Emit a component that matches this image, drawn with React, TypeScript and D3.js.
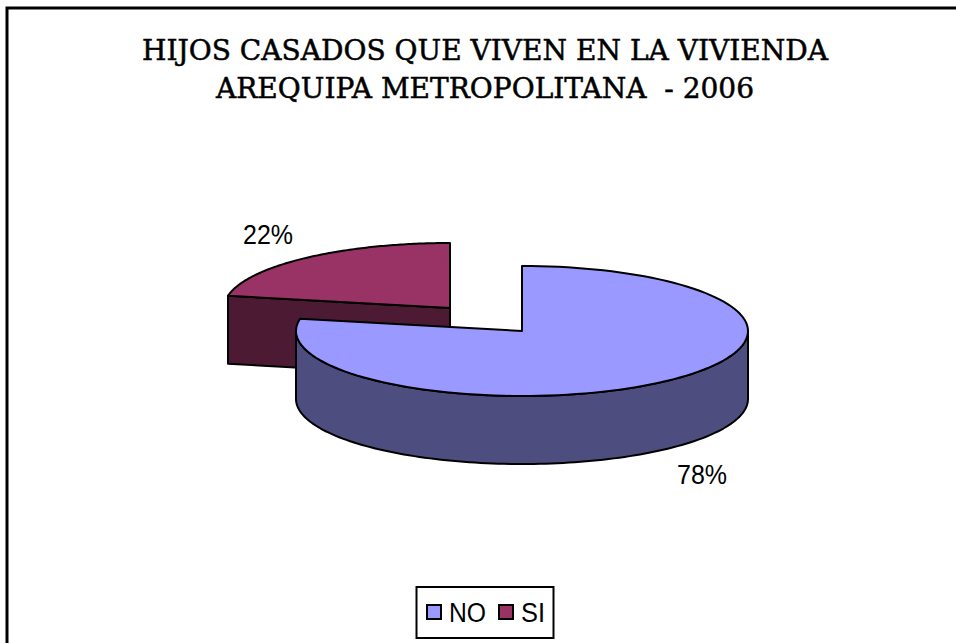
import React from "react";
import * as d3 from "d3";

const categories = ["NO", "SI"];
const values = [78, 22];
const labels = ["78%", "22%"];
const titleLines = ["HIJOS CASADOS QUE VIVEN EN LA VIVIENDA", "AREQUIPA METROPOLITANA  - 2006"];
const topColors = ["#9999ff", "#993366"];
const wallColors = ["#4d4d80", "#4d1a33"];

const RX = 226, RY = 65, DEPTH = 68;
const centers = [{ x: 522, y: 331 }, { x: 450, y: 308 }];

const line = d3.line<[number, number]>().x(d => d[0]).y(d => d[1]);
const pt = (c: { x: number; y: number }, a: number): [number, number] => [
  c.x + RX * Math.sin(a),
  c.y - RY * Math.cos(a),
];
const arc = (c: { x: number; y: number }, a0: number, a1: number) =>
  d3.range(0, 121).map(i => pt(c, a0 + ((a1 - a0) * i) / 120));

export default function App() {
  const arcs = d3.pie<number>().sort(null)(values);
  const no = arcs[0], si = arcs[1];
  const cNo = centers[0], cSi = centers[1];

  const noTop = line([[cNo.x, cNo.y], ...arc(cNo, no.startAngle, no.endAngle)])! + "Z";
  const siTop = line([[cSi.x, cSi.y], ...arc(cSi, si.startAngle, si.endAngle)])! + "Z";

  const front = arc(cNo, Math.PI / 2, (3 * Math.PI) / 2);
  const frontLow = front.map(p => [p[0], p[1] + DEPTH] as [number, number]).reverse();
  const noWall = line([...front, ...frontLow])! + "Z";

  const s0 = pt(cSi, si.startAngle);
  const siFace = line([
    [cSi.x, cSi.y],
    [s0[0], s0[1]],
    [s0[0], s0[1] + DEPTH],
    [cSi.x, cSi.y + DEPTH],
  ])! + "Z";

  return (
    <svg width={956} height={643} style={{ position: "fixed", left: 0, top: 0, background: "#fff" }}>
      <path d="M7,645 V8 H958" fill="none" stroke="#000" strokeWidth={3} />
      <g fontFamily="'DejaVu Serif', serif" fontSize={28} fill="#000" stroke="#000" strokeWidth={0.5} textAnchor="middle">
        <text x={485} y={60} textLength={686} lengthAdjust="spacingAndGlyphs">{titleLines[0]}</text>
        <text x={485} y={98} textLength={538} lengthAdjust="spacingAndGlyphs" xmlSpace="preserve">{titleLines[1]}</text>
      </g>
      <g stroke="#000" strokeWidth={2} strokeLinejoin="round">
        <path d={siFace} fill={wallColors[1]} />
        <path d={siTop} fill={topColors[1]} />
        <path d={noWall} fill={wallColors[0]} />
        <path d={noTop} fill={topColors[0]} />
      </g>
      <g fontFamily="'Liberation Sans', Arial, sans-serif" fontSize={28} fill="#000" textAnchor="middle">
        <text x={702} y={484} textLength={50} lengthAdjust="spacingAndGlyphs">{labels[0]}</text>
        <text x={268} y={244} textLength={50} lengthAdjust="spacingAndGlyphs">{labels[1]}</text>
      </g>
      <rect x={416.5} y={587} width={137} height={51} fill="#fff" stroke="#000" strokeWidth={2} />
      <g fontFamily="'Liberation Sans', Arial, sans-serif" fontSize={27} fill="#000">
        {categories.map((c, i) => {
          const xs = [427, 499];
          const widths = [37, 24];
          return (
            <g key={c}>
              <rect x={xs[i]} y={605} width={14} height={14} fill={topColors[i]} stroke="#000" strokeWidth={2} />
              <text x={xs[i] + 22} y={622} textLength={widths[i]} lengthAdjust="spacingAndGlyphs">{c}</text>
            </g>
          );
        })}
      </g>
    </svg>
  );
}
